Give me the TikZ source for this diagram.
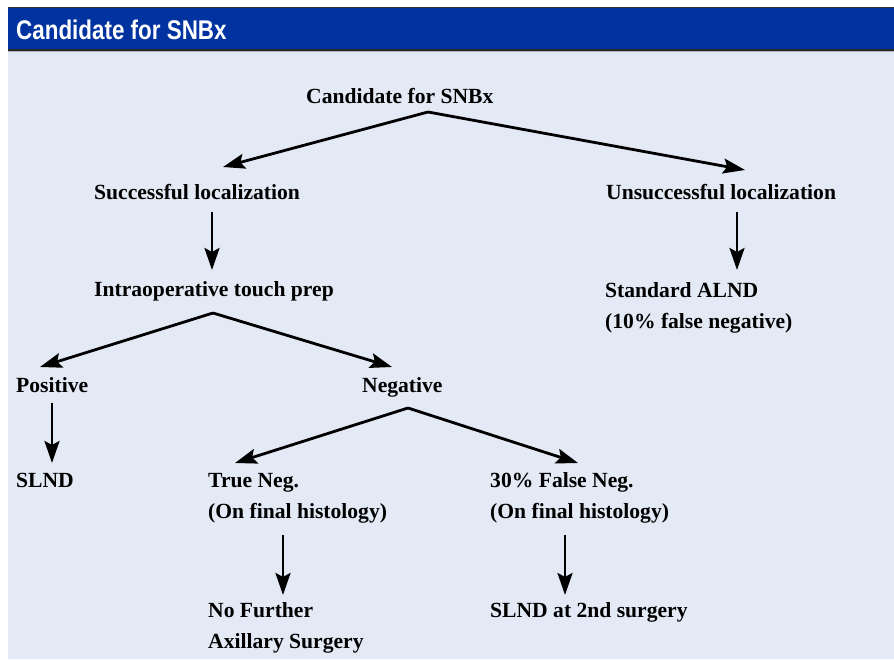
\documentclass[tikz,border=0pt]{standalone}
\usepackage{fontspec}
\setmainfont{Liberation Serif}
\newfontfamily\headfont[FakeStretch=0.83]{Liberation Sans}
\usetikzlibrary{arrows.meta}
\definecolor{headblue}{HTML}{0033A0}
\definecolor{panelblue}{HTML}{E3EAF5}
\tikzset{lbl/.style={anchor=base west,inner sep=0pt,align=left,font=\bfseries\fontsize{21.6}{31}\selectfont}}
\tikzset{arr/.style={-{Stealth[length=22pt,width=15pt,inset=4pt]},line width=2.8pt}}

\begin{document}
\begin{tikzpicture}[x=1pt,y=1pt]
        \useasboundingbox (0,0) rectangle (894,-660);
        \fill[panelblue] (8,-50) rectangle (894,-659);
        \fill[headblue] (8,-7) rectangle (894,-50);
        \draw[line width=1pt,black!80] (8,-7.5) -- (894,-7.5);
        \draw[line width=2.5pt,black!85] (8,-50) -- (894,-50);
        \draw[line width=1pt,black!30] (8,-52) -- (894,-52);
        \node[anchor=base west,inner sep=0pt,text=white,font=\headfont\bfseries\fontsize{27}{30}\selectfont] (title) at (16,-40) {Candidate for SNBx};

        \node[lbl] (cand) at (306,-104) {Candidate for SNBx};

        \node[lbl] (succ) at (94,-200) {Successful localization};
        \node[lbl] (unsucc) at (606,-200) {Unsuccessful localization};

        % two-line labels sit on the baseline of their last line
        \node[lbl] (intra) at (94,-297) {Intraoperative touch prep};
        \node[lbl] (alnd) at (605,-328) {Standard ALND\\(10\% false negative)};

        \node[lbl] (pos) at (16,-392) {Positive};
        \node[lbl] (neg) at (362,-392) {Negative};

        \node[lbl] (slnd) at (16,-487) {SLND};
        \node[lbl] (trueneg) at (208,-518) {True Neg.\\(On final histology)};
        \node[lbl] (falseneg) at (490,-518) {30\% False Neg.\\(On final histology)};

        \node[lbl] (nofurther) at (208,-648) {No Further\\Axillary Surgery};
        \node[lbl] (second) at (490,-617) {SLND at 2nd surgery};

        % split points and arrow ends
        \coordinate (cand split) at (428,-112);
        \coordinate (intra split) at (213,-313);
        \coordinate (neg split) at (408,-408);
        \coordinate (succ in) at (223,-167);
        \coordinate (unsucc in) at (745,-170);
        \coordinate (succ out) at (212,-212);
        \coordinate (intra in) at (212,-270);
        \coordinate (unsucc out) at (737,-212);
        \coordinate (alnd in) at (737,-270);
        \coordinate (pos in) at (40,-367);
        \coordinate (neg in) at (392,-367);
        \coordinate (pos out) at (52,-403);
        \coordinate (slnd in) at (52,-463);
        \coordinate (trueneg in) at (235,-463);
        \coordinate (falseneg in) at (578,-463);
        \coordinate (trueneg out) at (283,-535);
        \coordinate (nofurther in) at (283,-595);
        \coordinate (falseneg out) at (565,-535);
        \coordinate (second in) at (565,-595);

        \draw[arr] (cand split) -- (succ in);
        \draw[arr] (cand split) -- (unsucc in);
        \draw[arr] (succ out) -- (intra in);
        \draw[arr] (unsucc out) -- (alnd in);

        \draw[arr] (intra split) -- (pos in);
        \draw[arr] (intra split) -- (neg in);
        \draw[arr] (pos out) -- (slnd in);

        \draw[arr] (neg split) -- (trueneg in);
        \draw[arr] (neg split) -- (falseneg in);
        \draw[arr] (trueneg out) -- (nofurther in);
        \draw[arr] (falseneg out) -- (second in);
    \end{tikzpicture}
\end{document}
